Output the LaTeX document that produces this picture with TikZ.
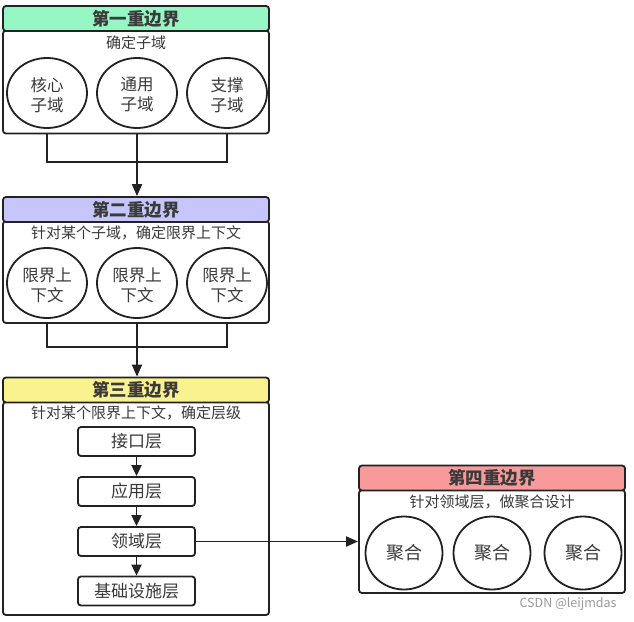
\documentclass[tikz,border=0pt]{standalone}
\usepackage{fontspec}
\setmainfont{Noto Sans CJK SC}
\usetikzlibrary{arrows.meta,calc,shapes.geometric}
\definecolor{lnc}{HTML}{222222}
\definecolor{txc}{HTML}{3A3A3A}
\definecolor{gA}{HTML}{96F7C4}
\definecolor{gB}{HTML}{C6C6FA}
\definecolor{gC}{HTML}{FAF28E}
\definecolor{gD}{HTML}{F99A9A}
\tikzset{
  hdr/.style={draw=lnc, line width=1.8pt, rounded corners=3pt, minimum height=25pt, inner sep=0pt, font=\bfseries\fontsize{17.5}{17.5}\selectfont, text=txc},
  bodybox/.style={draw=lnc, line width=1.8pt, rounded corners=3pt, fill=white, inner sep=0pt},
  sub/.style={font=\fontsize{15}{15}\selectfont, text=txc, inner sep=0pt},
  oval/.style={draw=lnc, line width=1.8pt, ellipse, fill=white, minimum width=80pt, minimum height=70pt, inner sep=0pt, align=center, font=\fontsize{16.5}{20}\selectfont, text=txc},
  ovtext/.style={inner sep=0pt, align=center, font=\fontsize{16.5}{20}\selectfont, text=txc},
  layer/.style={draw=lnc, line width=1.8pt, rounded corners=3pt, minimum width=117pt, minimum height=29pt, inner sep=0pt, font=\fontsize{17}{17}\selectfont, text=txc},
  conn/.style={draw=lnc, line width=1.8pt},
  arr/.style={conn, -{Triangle[length=12pt,width=10pt]}},
  sarr/.style={conn, -{Triangle[length=11pt,width=10pt]}},
}
\begin{document}
\begin{tikzpicture}[x=1pt,y=-1pt]
\useasboundingbox (0,0) rectangle (634,621);
% box 1
\node[bodybox, minimum width=266pt, minimum height=103pt] (b1) at (136,82) {};
\node[hdr, fill=gA, minimum width=266pt] (h1) at (136,18.5) {第一重边界};
\node[sub] (s1) at (136,43) {确定子域};
\node[oval] (c11) at (47,93) {};
\node[oval] (c12) at (137,93) {};
\node[oval] (c13) at (227,93) {};
\node[ovtext] (t11) at (47,95) {核心\\子域};
\node[ovtext] (t12) at (137,95) {通用\\子域};
\node[ovtext] (t13) at (227,95) {支撑\\子域};
% box 2
\node[bodybox, minimum width=266pt, minimum height=102pt] (b2) at (136,272) {};
\node[hdr, fill=gB, minimum width=266pt] (h2) at (136,209.5) {第二重边界};
\node[sub] (s2) at (136,233) {针对某个子域，确定限界上下文};
\node[oval] (c21) at (47,283) {};
\node[oval] (c22) at (137,283) {};
\node[oval] (c23) at (227,283) {};
\node[ovtext] (t21) at (47,285) {限界上\\下文};
\node[ovtext] (t22) at (137,285) {限界上\\下文};
\node[ovtext] (t23) at (227,285) {限界上\\下文};
% box 3
\node[bodybox, minimum width=266pt, minimum height=213pt] (b3) at (136,508.5) {};
\node[hdr, fill=gC, minimum width=266pt] (h3) at (136,390) {第三重边界};
\node[sub] (s3) at (136,413) {针对某个限界上下文，确定层级};
\node[layer] (l1) at (136.5,441.5) {接口层};
\node[layer] (l2) at (136.5,491.5) {应用层};
\node[layer] (l3) at (136.5,541.5) {领域层};
\node[layer] (l4) at (136.5,591) {基础设施层};
% box 4
\node[bodybox, minimum width=266pt, minimum height=103pt] (b4) at (492,541.5) {};
\node[hdr, fill=gD, minimum width=266pt] (h4) at (492,478) {第四重边界};
\node[sub] (s4) at (492,502) {针对领域层，做聚合设计};
\node[oval, minimum width=77pt, minimum height=73pt, font=\fontsize{18}{18}\selectfont] (c41) at (404,553) {聚合};
\node[oval, minimum width=77pt, minimum height=73pt, font=\fontsize{18}{18}\selectfont] (c42) at (492,553) {聚合};
\node[oval, minimum width=77pt, minimum height=73pt, font=\fontsize{18}{18}\selectfont] (c43) at (583,553) {聚合};
% watermark
\node[font=\fontsize{12.5}{12.5}\selectfont, text=black!40, inner sep=0pt] (wm) at (568,604) {CSDN @leijmdas};
% connectors 1 -> 2
\coordinate (j1) at (137,162);
\draw[conn] (c11|-b1.south) -- (c11|-j1) -- (c13|-j1) -- (c13|-b1.south);
\draw[arr] (c12|-b1.south) -- (c12|-h2.north);
% connectors 2 -> 3
\coordinate (j2) at (137,347);
\draw[conn] (c21|-b2.south) -- (c21|-j2) -- (c23|-j2) -- (c23|-b2.south);
\draw[arr] (c22|-b2.south) -- (c22|-h3.north);
% layers
\draw[sarr] (l1) -- (l2);
\draw[sarr] (l2) -- (l3);
\draw[sarr] (l3) -- (l4);
\draw[arr] (l3.east) -- (l3.east-|b4.west);
\end{tikzpicture}
\end{document}
